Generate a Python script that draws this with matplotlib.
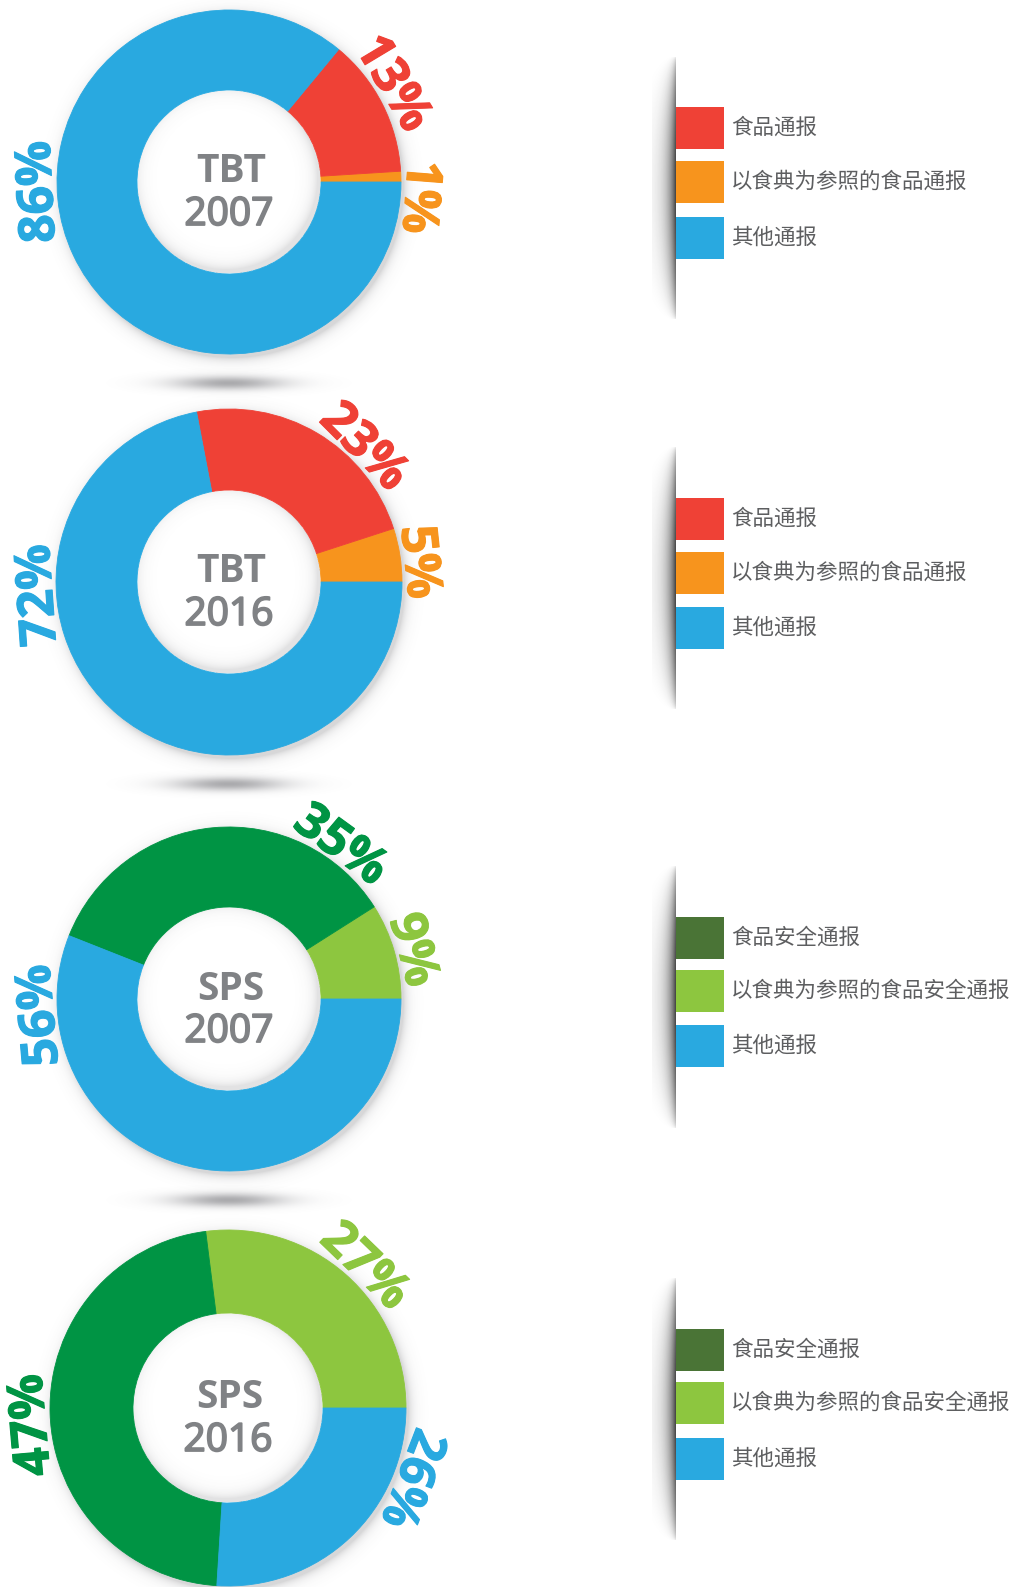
import numpy as np
import matplotlib.pyplot as plt
import matplotlib.patheffects as pe
from matplotlib.patches import Rectangle

plt.rcParams["font.family"] = ["Noto Sans CJK SC", "DejaVu Sans"]

W, H = 1013, 1587

# ---- data ----
tbt_labels = ["食品通报", "以食典为参照的食品通报", "其他通报"]
sps_labels = ["食品安全通报", "以食典为参照的食品安全通报", "其他通报"]
# order: food, codex-referenced, other  (%)
tbt_2007 = [13, 1, 86]
tbt_2016 = [23, 5, 72]
sps_2007 = [35, 9, 56]
sps_2016 = [47, 27, 26]
titles = [("TBT", "2007"), ("TBT", "2016"), ("SPS", "2007"), ("SPS", "2016")]

BLUE = "#29a9e0"
RED = "#ef4136"
ORANGE = "#f7941d"
GREEN = "#009444"
LIME = "#8dc63f"
OLIVE = "#4a7436"
GRAY = "#808285"
TXT = "#5d5e60"

tbt_colors = [RED, ORANGE, BLUE]
sps_colors = [GREEN, LIME, BLUE]
sps_leg_colors = [OLIVE, LIME, BLUE]

# layout in pixels (y measured from top)
charts = [
    dict(values=tbt_2007, colors=tbt_colors, leg_colors=tbt_colors, labels=tbt_labels,
         title=titles[0], c=(229, 182), r=172, hole=92, ang=[31, -4.5, 183], lr=190,
         leg_y=[107, 161, 217], ground=True),
    dict(values=tbt_2016, colors=tbt_colors, leg_colors=tbt_colors, labels=tbt_labels,
         title=titles[1], c=(229, 582), r=173, hole=92, ang=[45, 6, 184], lr=190,
         leg_y=[498, 552, 607], ground=True),
    dict(values=sps_2007, colors=sps_colors, leg_colors=sps_leg_colors, labels=sps_labels,
         title=titles[2], c=(229, 999), r=172, hole=92, ang=[54, 15, 185], lr=189,
         leg_y=[917, 970, 1025], ground=True),
    dict(values=sps_2016, colors=sps_colors, leg_colors=sps_leg_colors, labels=sps_labels,
         title=titles[3], c=(228, 1408), r=178, hole=95, ang=[185, 46, -21], lr=196,
         leg_y=[1329, 1382, 1438], ground=False),
]


def shade(ax, x0, x1, y0, y1, alpha_fn, color=(0.3, 0.3, 0.32), z=0):
    """soft shadow drawn as an RGBA image, coords in top-down pixels"""
    xs = np.linspace(x0, x1, int(x1 - x0))
    ys = np.linspace(y0, y1, int(y1 - y0))
    X, Y = np.meshgrid(xs, ys)
    img = np.zeros(X.shape + (4,))
    img[..., :3] = color
    img[..., 3] = np.clip(alpha_fn(X, Y), 0, 1)
    ax.imshow(img, extent=(x0, x1, H - y1, H - y0), origin="upper",
              zorder=z, interpolation="bilinear")


fig = plt.figure(figsize=(W / 100, H / 100), dpi=100)
ax = fig.add_axes([0, 0, 1, 1])

for ch in charts:
    cx, cy = ch["c"]
    r, hole = ch["r"], ch["hole"]
    vals, cols = ch["values"], ch["colors"]

    # drop shadow around the ring (outside only)
    def halo(X, Y, cx=cx, cy=cy, r=r):
        d = np.hypot(X - cx - 3, Y - cy - 4)
        return np.where(np.hypot(X - cx, Y - cy) > r - 4,
                        0.22 * np.exp(-np.clip(d - r, 0, None) / 5), 0)

    shade(ax, cx - r - 20, cx + r + 25, cy - r - 20, cy + r + 25, halo, z=0)
    if ch["ground"]:
        gy = cy + r + 29
        shade(ax, cx - 130, cx + 130, gy - 24, gy + 24,
              lambda X, Y: 0.6 * np.exp(-((X - cx) / 55) ** 2 - ((Y - gy) / 7) ** 2),
              color=(0.45, 0.45, 0.47), z=0)

    # donut: codex, food, other counter-clockwise from 3 o'clock
    wedges, _ = ax.pie([vals[1], vals[0], vals[2]], colors=[cols[1], cols[0], cols[2]],
                       startangle=0, counterclock=True, radius=r, center=(cx, H - cy),
                       frame=True, wedgeprops=dict(width=r - hole, linewidth=0.6))
    for w in wedges:
        w.set_edgecolor(w.get_facecolor())

    # inner shadow of the hole
    def inner(X, Y, cx=cx, cy=cy, hole=hole):
        d = np.hypot(X - cx, Y - cy)
        d2 = np.hypot(X - cx + 3, Y - cy + 4)
        return np.where(d < hole, 0.16 * np.exp(-np.clip(hole - d2, 0, None) / 6), 0)

    shade(ax, cx - hole, cx + hole, cy - hole, cy + hole, inner, z=3)

    # percent labels along the ring
    for v, a, col in zip(vals, ch["ang"], cols):
        t = np.deg2rad(a)
        ax.text(cx + ch["lr"] * np.cos(t), H - cy + ch["lr"] * np.sin(t), f"{v}%",
                rotation=a - 90, rotation_mode="anchor", ha="center", va="center",
                fontsize=36, fontweight="bold", color=col, family="Open Sans", zorder=5,
                path_effects=[pe.withStroke(linewidth=0.8, foreground=col)])

    # centre title
    ax.text(cx + 2, H - cy + 10, ch["title"][0], ha="center", va="center", fontsize=28,
            fontweight="bold", color=GRAY, family="Open Sans", zorder=5)
    ax.text(cx, H - cy - 33, ch["title"][1], ha="center", va="center", fontsize=28,
            color=GRAY, family="Open Sans", zorder=5,
            path_effects=[pe.withStroke(linewidth=1.3, foreground=GRAY)])

    # legend with its shadow edge
    ly = ch["leg_y"]
    mid = (ly[0] + ly[2] + 42) / 2 + 5
    half = 132

    def strip(X, Y, mid=mid, half=half):
        tt = np.clip((Y - mid) / half, -1, 1)
        k = np.sqrt(np.clip(1 - tt ** 2, 0, 1))
        w = 1 + 8 * k
        return np.where(X <= 676, 0.8 * k * np.exp(-(676 - X) / w), 0)

    shade(ax, 652, 677, mid - half, mid + half, strip, color=(0.1, 0.1, 0.1), z=1)
    for y0, lab, col in zip(ly, ch["labels"], ch["leg_colors"]):
        ax.add_patch(Rectangle((676, H - y0 - 42), 48, 42, facecolor=col,
                               edgecolor="none", zorder=4))
        ax.text(731, H - y0 - 21, lab, ha="left", va="center", fontsize=15.5,
                color=TXT, zorder=5)

ax.set_xlim(0, W)
ax.set_ylim(0, H)
ax.set_aspect("equal")
ax.axis("off")

plt.savefig("out.png", dpi=100)
plt.close()
